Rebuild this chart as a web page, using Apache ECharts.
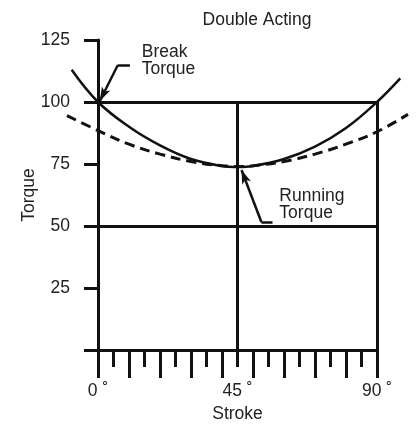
<!DOCTYPE html>
<html>
<head>
<meta charset="utf-8">
<style>
  html, body { margin: 0; padding: 0; background: #fff; }
  #chart { width: 418px; height: 424px; }
</style>
<script src="https://cdn.jsdelivr.net/npm/echarts@6/dist/echarts.min.js"></script>
</head>
<body>
<div id="chart"></div>
<script>
// stroke angle (deg) and torque readings
const breakStroke = [-8.5, 0, 10, 20, 30, 40, 45, 50, 60, 70, 80, 90, 97.5]
const breakTorque = [113, 100, 90, 82.5, 77, 74.2, 73.8, 74.2, 77, 82, 89.5, 100, 109.5]

const runStroke = [-10, 0, 10, 20, 30, 40, 45, 50, 60, 70, 80, 90, 100]
const runTorque = [94.5, 88.5, 83, 79, 76, 74.3, 74, 74.3, 76, 79, 83, 88, 95]

const strokeLabels = [0, 45, 90]
const torqueLabels = [25, 50, 75, 100, 125]

// frame lines [x1, y1, x2, y2]
const frameLines = [
  [0, 50, 90, 50],
  [0, 100, 90, 100],
  [45, 0, 45, 100],
  [90, 0, 90, 100]
]

// callouts: text anchor, leader elbow, leader end, arrow tip
const callouts = [
  { text: 'Break\nTorque', at: [14.1, 116.5], elbowEnd: [10.3, 114.9], elbow: [6.4, 114.9], tip: [0.6, 100.4] },
  { text: 'Running\nTorque', at: [58.5, 58.6], elbowEnd: [56.3, 51.6], elbow: [52.7, 51.6], tip: [46.3, 72.6] }
]

const ink = '#111'
const font = 'Liberation Sans, Arial, sans-serif'
const fs = 17.5

// plot area: 0..90 deg over 98..377 px; curves overhang on a wider hidden axis
const plotLeft = 98, plotRight = 41
const degPx = (418 - plotLeft - plotRight) / 90
const overhang = 12

const chart = echarts.init(document.getElementById('chart'))

const pair = (a, b) => a.map((x, i) => [x, b[i]])

chart.setOption({
  animation: false,
  title: {
    text: 'Double Acting',
    left: 252,
    top: 6,
    textAlign: 'center',
    textStyle: { fontFamily: font, fontSize: fs, fontWeight: 'normal', color: '#222' }
  },
  grid: [
    { left: plotLeft, right: plotRight, top: 40, bottom: 74, outerBoundsMode: 'none' },
    {
      left: plotLeft - overhang * degPx,
      right: plotRight - overhang * degPx,
      top: 40,
      bottom: 74,
      outerBoundsMode: 'none'
    }
  ],
  xAxis: [{
    type: 'value',
    min: 0,
    max: 90,
    interval: 10,
    name: 'Stroke',
    nameLocation: 'middle',
    nameGap: 55,
    nameMoveOverlap: false,
    nameTextStyle: { fontFamily: font, fontSize: fs, color: '#222' },
    axisLine: { lineStyle: { color: ink, width: 3 } },
    axisTick: { length: 28, lineStyle: { color: ink, width: 3 } },
    minorTick: { show: true, splitNumber: 2, length: 17, lineStyle: { color: ink, width: 3 } },
    axisLabel: {
      customValues: strokeLabels,
      formatter: v => v + ' ˚',
      margin: 32,
      fontFamily: font,
      fontSize: fs,
      color: '#222'
    },
    splitLine: { show: false }
  }, {
    type: 'value',
    gridIndex: 1,
    min: -overhang,
    max: 90 + overhang,
    show: false
  }],
  yAxis: [{
    type: 'value',
    min: 0,
    max: 125,
    interval: 25,
    name: 'Torque',
    nameLocation: 'middle',
    nameGap: 60,
    nameMoveOverlap: false,
    nameTextStyle: { fontFamily: font, fontSize: fs, color: '#222' },
    axisLine: { show: true, lineStyle: { color: ink, width: 3 } },
    axisTick: { show: true, length: 14, lineStyle: { color: ink, width: 3 } },
    axisLabel: {
      customValues: torqueLabels,
      margin: 28,
      fontFamily: font,
      fontSize: fs,
      color: '#222'
    },
    splitLine: { show: false }
  }, {
    type: 'value',
    gridIndex: 1,
    min: 0,
    max: 125,
    show: false
  }],
  series: [
    {
      name: 'Break Torque',
      type: 'line',
      xAxisIndex: 1,
      yAxisIndex: 1,
      data: pair(breakStroke, breakTorque),
      smooth: 0.4,
      clip: false,
      symbol: 'none',
      lineStyle: { color: ink, width: 2.5 }
    },
    {
      name: 'Running Torque',
      type: 'line',
      xAxisIndex: 1,
      yAxisIndex: 1,
      data: pair(runStroke, runTorque),
      smooth: 0.4,
      clip: false,
      symbol: 'none',
      lineStyle: { color: ink, width: 3, type: [10, 6] }
    },
    {
      name: 'frame',
      type: 'line',
      data: [],
      markLine: {
        silent: true,
        symbol: ['none', 'none'],
        label: { show: false },
        lineStyle: { color: ink, width: 3, type: 'solid' },
        data: frameLines.map(l => [{ coord: [l[0], l[1]] }, { coord: [l[2], l[3]] }])
      }
    },
    {
      name: 'callouts',
      type: 'line',
      data: [],
      markLine: {
        silent: true,
        symbol: ['none', 'none'],
        label: { show: false },
        lineStyle: { color: ink, width: 2.5, type: 'solid' },
        data: callouts.flatMap(c => [
          [{ coord: c.elbowEnd }, { coord: c.elbow }],
          [{ coord: c.elbow }, { coord: c.tip, symbol: 'arrow', symbolSize: [7, 14] }]
        ])
      },
      markPoint: {
        silent: true,
        symbol: 'circle',
        symbolSize: 0,
        label: {
          show: true,
          position: 'right',
          distance: 0,
          fontFamily: font,
          fontSize: fs,
          lineHeight: 17,
          color: '#222',
          formatter: p => p.name
        },
        data: callouts.map(c => ({ name: c.text, coord: c.at }))
      }
    }
  ]
})
</script>
</body>
</html>
